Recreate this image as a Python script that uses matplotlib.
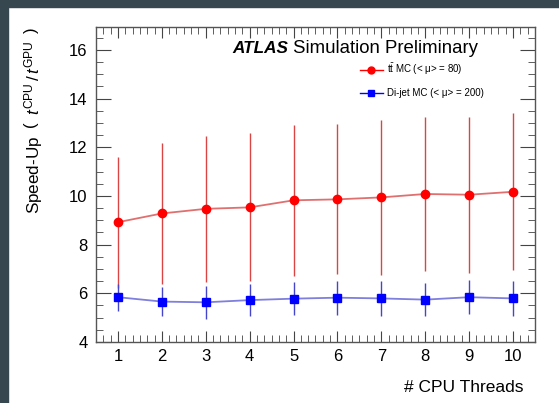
import matplotlib
matplotlib.use("Agg")
import matplotlib.pyplot as plt
from matplotlib.lines import Line2D
from matplotlib.patches import Rectangle
from matplotlib.ticker import MultipleLocator, AutoMinorLocator

plt.rcParams["font.family"] = ["Liberation Sans", "DejaVu Sans"]
plt.rcParams["mathtext.fontset"] = "custom"
plt.rcParams["mathtext.rm"] = "Liberation Sans"
plt.rcParams["mathtext.it"] = "Liberation Sans:italic"
plt.rcParams["mathtext.bf"] = "Liberation Sans:bold"

# speed-up vs number of CPU threads
threads = [1, 2, 3, 4, 5, 6, 7, 8, 9, 10]
ttbar_speedup = [8.92, 9.28, 9.47, 9.53, 9.82, 9.86, 9.94, 10.08, 10.05, 10.17]
ttbar_err = [2.69, 2.88, 2.99, 3.04, 3.09, 3.08, 3.18, 3.18, 3.21, 3.22]
dijet_speedup = [5.84, 5.66, 5.63, 5.72, 5.78, 5.82, 5.79, 5.74, 5.84, 5.79]
dijet_err = [0.55, 0.58, 0.68, 0.67, 0.68, 0.70, 0.72, 0.69, 0.70, 0.71]

ttbar_label = r"$\mathrm{t\bar{t}}$ MC (< μ> = 80)"
dijet_label = "Di-jet MC (< μ> = 200)"

fig = plt.figure(figsize=(5.59, 4.03), dpi=100)
ax = fig.add_axes([0.1717, 0.1514, 0.7853, 0.7816])

# slide background strip
fig.patches.append(Rectangle((0, 0.983), 1, 0.02, transform=fig.transFigure,
                             color="#37474f", zorder=0))
fig.patches.append(Rectangle((0, 0), 0.0135, 1, transform=fig.transFigure,
                             color="#37474f", zorder=0))

ax.errorbar(threads, ttbar_speedup, yerr=ttbar_err, fmt="none",
            ecolor="#d94545", elinewidth=1.0, zorder=2)
ax.plot(threads, ttbar_speedup, color="#e07070", lw=1.3, zorder=3)
ax.plot(threads, ttbar_speedup, "o", color="#ff0000", ms=6, zorder=4)

ax.errorbar(threads, dijet_speedup, yerr=dijet_err, fmt="none",
            ecolor="#4545cc", elinewidth=1.0, zorder=2)
ax.plot(threads, dijet_speedup, color="#7f7fdd", lw=1.3, zorder=3)
ax.plot(threads, dijet_speedup, "s", color="#0000ff", ms=5.5, zorder=4)

ax.set_xlim(0.5, 10.5)
ax.set_ylim(4, 16.94)
ax.xaxis.set_major_locator(MultipleLocator(1))
ax.xaxis.set_minor_locator(AutoMinorLocator(6))
ax.yaxis.set_major_locator(MultipleLocator(2))
ax.yaxis.set_minor_locator(AutoMinorLocator(4))
ax.tick_params(which="both", direction="in", top=True, right=True,
               color="#444444", labelsize=12)
ax.tick_params(axis="x", which="major", length=8, pad=5)
ax.tick_params(axis="y", which="major", length=11, pad=6)
ax.tick_params(which="minor", length=5)
for s in ax.spines.values():
    s.set_color("#555555")
    s.set_linewidth(1.0)

ax.set_ylabel(r"Speed-Up $\;\left(\;\;t^{\mathrm{CPU}}\,/\,t^{\mathrm{GPU}}\;\;\right)$",
              fontsize=12.3, loc="top")
ax.yaxis.set_label_coords(-0.115, 1.0)
ax.set_xlabel("# CPU Threads", fontsize=12.5, loc="right")
ax.xaxis.set_label_coords(0.973, -0.12)

fig.text(0.415, 0.869, "ATLAS", fontsize=12.3, fontweight="bold",
         fontstyle="italic")
fig.text(0.5245, 0.869, "Simulation Preliminary", fontsize=13.4)

handles = [Line2D([], [], color="#ff0000", lw=1, marker="o", ms=5),
           Line2D([], [], color="#0000ff", lw=1, marker="s", ms=4.5)]
ax.legend(handles, [ttbar_label, dijet_label], loc="upper left",
          bbox_to_anchor=(0.6345, 0.86), bbox_transform=fig.transFigure,
          frameon=False, fontsize=7, handlelength=2.4, handletextpad=0.4,
          labelspacing=1.15, borderpad=0)

fig.savefig("out.png", dpi=100)
